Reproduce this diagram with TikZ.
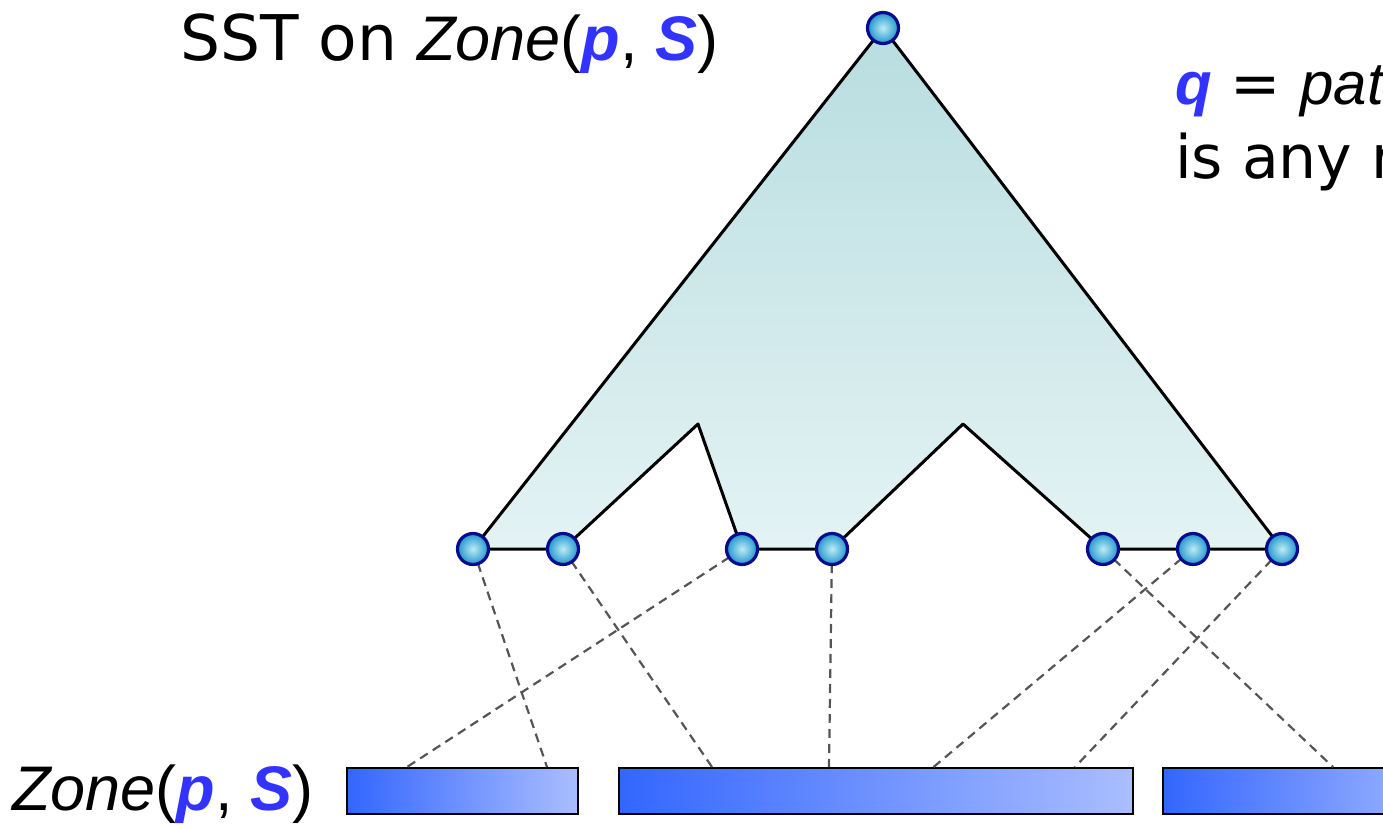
\documentclass[tikz,border=0pt]{standalone}
\usepackage{fontspec}
\setmainfont{Liberation Sans}
\newfontfamily\hand{DejaVu Sans}
\definecolor{varblue}{RGB}{51,51,255}
\definecolor{rim}{RGB}{10,10,140}
\definecolor{ballin}{RGB}{190,235,245}
\definecolor{ballout}{RGB}{30,150,205}
\definecolor{treetop}{RGB}{184,221,224}
\definecolor{treebot}{RGB}{228,243,244}
\definecolor{bardark}{RGB}{51,102,255}
\definecolor{barlight}{RGB}{170,190,255}
\definecolor{linkgray}{RGB}{85,85,85}
\newcommand{\pv}{\textcolor{varblue}{\textbf{\textit{p}}}}
\newcommand{\Sv}{\textcolor{varblue}{\textbf{\textit{S}}}}
\newcommand{\qv}{\textcolor{varblue}{\textbf{\textit{q}}}}
\begin{document}
\begin{tikzpicture}[x=1pt,y=-1pt,
  vert/.style={circle, minimum size=31pt, inner sep=0pt, draw=rim, line width=3.2pt, inner color=ballin, outer color=ballout},
  link/.style={draw=linkgray, line width=2.2pt, dash pattern=on 9pt off 6pt},
  zonebar/.style={draw=black, line width=2pt, left color=bardark, right color=barlight, minimum height=46pt, inner sep=0pt},
  lbl/.style={font=\fontsize{63}{70}\selectfont, inner sep=0pt},
  note/.style={font=\fontsize{60}{70}\selectfont, inner sep=0pt}]
\useasboundingbox (0,0) rectangle (1383,827);
\clip (0,0) rectangle (1383,827);

% tree vertices
\coordinate (t0) at (883,28);
\coordinate (c1) at (473,549);
\coordinate (c2) at (563,549);
\coordinate (c3) at (742,549);
\coordinate (c4) at (832,549);
\coordinate (c5) at (1103,549);
\coordinate (c6) at (1193,549);
\coordinate (c7) at (1282,549);
\coordinate (k1) at (698,424);
\coordinate (k2) at (963,424);

% shaded outline of the tree
\shade[top color=treetop, bottom color=treebot]
  (t0) -- (c1) -- (c2) -- (k1) -- (c3) -- (c4) -- (k2) -- (c5) -- (c7) -- cycle;
\draw[line width=3pt, line join=round]
  (t0) -- (c1) -- (c2) -- (k1) -- (c3) -- (c4) -- (k2) -- (c5) -- (c7) -- cycle;

% zone intervals
\node[zonebar, minimum width=231pt, anchor=north west] (z1) at (346,767) {};
\node[zonebar, minimum width=514pt, anchor=north west] (z2) at (618,767) {};
\node[zonebar, minimum width=300pt, anchor=north west] (z3) at (1162,767) {};

% end points of the links on the intervals
\coordinate (e1) at (547,767);
\coordinate (e2) at (712,767);
\coordinate (e3) at (407,767);
\coordinate (e4) at (829,767);
\coordinate (e5) at (1333,767);
\coordinate (e6) at (930,770);
\coordinate (e7) at (1075,767);

\draw[link] (c1) -- (e1);
\draw[link] (c2) -- (e2);
\draw[link] (c3) -- (e3);
\draw[link] (c4) -- (e4);
\draw[link] (c5) -- (e5);
\draw[link] (c6) -- (e6);
\draw[link] (c7) -- (e7);

% vertices drawn on top
\node[vert] (v0) at (t0) {};
\node[vert] (v1) at (c1) {};
\node[vert] (v2) at (c2) {};
\node[vert] (v3) at (c3) {};
\node[vert] (v4) at (c4) {};
\node[vert] (v5) at (c5) {};
\node[vert] (v6) at (c6) {};
\node[vert] (v7) at (c7) {};

% labels
\node[lbl, anchor=base west] (title) at (180,60) {{\hand SST on }\textit{Zone}(\pv, \Sv)};
\node[lbl, anchor=base west] (zlabel) at (12,810) {\textit{Zone}(\pv, \Sv)};
\node[note, anchor=base west] (qline) at (1175,104) {\qv{\hand{} = }\textit{path}};
\node[note, anchor=base west] (rline) at (1175,178) {\hand is any r};
\end{tikzpicture}
\end{document}
